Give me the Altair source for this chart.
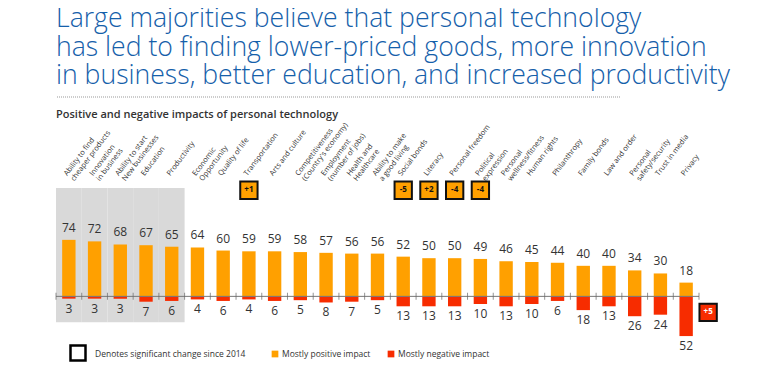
import altair as alt
import pandas as pd

categories = [
    "Ability to find\ncheaper products", "Innovation\nin business", "Ability to start\nNew businesses",
    "Education", "Productivity", "Economic\nOpportunity", "Quality of life", "Transportation",
    "Arts and culture", "Competitiveness\n(Country's economy)", "Employment\n(number of jobs)",
    "Health and\nHealthcare", "Ability to make\na good living", "Social bonds", "Literacy",
    "Personal freedom", "Political\nexpression", "Personal\nwellness/fitness", "Human rights",
    "Philanthropy", "Family bonds", "Law and order", "Personal\nsafety/security",
    "Trust in media", "Privacy",
]
positive = [74, 72, 68, 67, 65, 64, 60, 59, 59, 58, 57, 56, 56, 52, 50, 50, 49, 46, 45, 44, 40, 40, 34, 30, 18]
negative = [3, 3, 3, 7, 6, 4, 6, 4, 6, 5, 8, 7, 5, 13, 13, 13, 10, 13, 10, 6, 18, 13, 26, 24, 52]

# significant changes since 2014 (positive-impact share)
change_cats = ["Transportation", "Social bonds", "Literacy", "Personal freedom", "Political\nexpression"]
change_vals = ["+1", "-5", "+2", "-4", "-4"]
# significant change for the negative side
neg_change_cat = "Privacy"
neg_change_val = "+5"

highlight_cats = categories[:5]

title_lines = [
    "Large majorities believe that personal technology",
    "has led to finding lower-priced goods, more innovation",
    "in business, better education, and increased productivity",
]
subtitle = "Positive and negative impacts of personal technology"
legend_labels = ["Denotes significant change since 2014", "Mostly positive impact", "Mostly negative impact"]

ORANGE = "#FFA000"
RED = "#F72C00"
FONT = "Open Sans"

rows = []
for c, p, n in zip(categories, positive, negative):
    rows.append({"cat": c, "value": p, "kind": "Mostly positive impact", "label": str(p)})
    rows.append({"cat": c, "value": -n, "kind": "Mostly negative impact", "label": str(n)})
df = pd.DataFrame(rows)
pos_df = df[df["kind"] == "Mostly positive impact"]
neg_df = df[df["kind"] == "Mostly negative impact"]

badge_df = pd.DataFrame({"cat": change_cats, "txt": change_vals, "y": [139] * len(change_cats)})
neg_badge_df = pd.DataFrame({"cat": [neg_change_cat], "txt": [neg_change_val], "y": [-21]})
hl_df = pd.DataFrame({"cat": highlight_cats, "top": [142] * 5, "bot": [-34] * 5})
cat_df = pd.DataFrame({"cat": categories, "z": [0] * len(categories)})

xscale = alt.Scale(domain=categories, paddingInner=0, paddingOuter=0)
yscale = alt.Scale(domain=[-65, 155], nice=False, zero=False)

xenc = alt.X("cat:N", scale=xscale, sort=categories, title=None,
             axis=alt.Axis(orient="top", labelAngle=-53, labelAlign="left", labelBaseline="bottom",
                           labelExpr="split(datum.label, '\\n')", labelFont=FONT, labelFontSize=7.4,
                           labelColor="#333333", labelPadding=1, ticks=False, domain=False,
                           labelLimit=200, labelLineHeight=8.6, grid=False))
xplain = alt.X("cat:N", scale=xscale, sort=categories, title=None)

base_y = alt.Y("value:Q", scale=yscale, axis=None)

highlight = alt.Chart(hl_df).mark_bar(color="#D9D9D9", width=alt.RelativeBandSize(1)).encode(
    x=xenc, y=alt.Y("top:Q", scale=yscale, axis=None), y2="bot:Q")

bars = alt.Chart(df).mark_bar(width=alt.RelativeBandSize(0.52)).encode(
    x=xplain, y=base_y,
    color=alt.Color("kind:N", scale=alt.Scale(domain=["Mostly positive impact", "Mostly negative impact"],
                                               range=[ORANGE, RED]), legend=None))

zero = alt.Chart(pd.DataFrame({"z": [0]})).mark_rule(color="#777777", strokeWidth=1).encode(
    y=alt.Y("z:Q", scale=yscale, axis=None))

ticks = alt.Chart(cat_df).mark_tick(orient="vertical", size=7, thickness=1, color="#666666").encode(
    x=alt.X("cat:N", scale=xscale, sort=categories, title=None, bandPosition=0),
    y=alt.Y("z:Q", scale=yscale, axis=None))
end_tick = alt.Chart(cat_df.tail(1)).mark_tick(orient="vertical", size=7, thickness=1, color="#666666").encode(
    x=alt.X("cat:N", scale=xscale, sort=categories, title=None, bandPosition=1),
    y=alt.Y("z:Q", scale=yscale, axis=None))

pos_text = alt.Chart(pos_df).mark_text(baseline="bottom", dy=-5, font=FONT, fontSize=12, color="#333333").encode(
    x=xplain, y=base_y, text="label:N")
neg_text = alt.Chart(neg_df).mark_text(baseline="top", dy=5, font=FONT, fontSize=12, color="#333333").encode(
    x=xplain, y=base_y, text="label:N")

badges = alt.Chart(badge_df).mark_square(size=300, filled=True, color=ORANGE, stroke="#111111",
                                         strokeWidth=2, opacity=1).encode(
    x=xplain, y=alt.Y("y:Q", scale=yscale, axis=None))
badge_text = alt.Chart(badge_df).mark_text(font=FONT, fontSize=8, fontWeight="bold", color="#111111").encode(
    x=xplain, y=alt.Y("y:Q", scale=yscale, axis=None), text="txt:N")

neg_badge = alt.Chart(neg_badge_df).mark_square(size=300, filled=True, color=RED, stroke="#111111",
                                                strokeWidth=2, opacity=1, xOffset=22).encode(
    x=xplain, y=alt.Y("y:Q", scale=yscale, axis=None))
neg_badge_text = alt.Chart(neg_badge_df).mark_text(font=FONT, fontSize=8, fontWeight="bold", color="white",
                                                   xOffset=22).encode(
    x=xplain, y=alt.Y("y:Q", scale=yscale, axis=None), text="txt:N")

# Title, subtitle, separator and legend (decorations placed in the padding)
one = pd.DataFrame({"a": [0]})
deco = []
for i, line in enumerate(title_lines):
    deco.append(alt.Chart(one).mark_text(
        align="left", baseline="middle", font=FONT, fontSize=26.6, fontWeight=300, color="#1560AA", text=line
    ).encode(x=alt.value(0), y=alt.value(-159 + 28.5 * i)))

deco.append(alt.Chart(one).mark_text(
    align="left", baseline="middle", font=FONT, fontSize=11, fontWeight=600, color="#333333", text=subtitle
).encode(x=alt.value(0), y=alt.value(-63)))

deco.append(alt.Chart(one).mark_rule(color="#999999", strokeDash=[1, 1], strokeWidth=1).encode(
    x=alt.value(1), x2=alt.value(564), y=alt.value(-81)))

deco.append(alt.Chart(one).mark_square(size=225, filled=False, stroke="#000000", strokeWidth=2.5,
                                       opacity=1).encode(x=alt.value(22), y=alt.value(175)))
deco.append(alt.Chart(one).mark_square(size=45, color=ORANGE, opacity=1).encode(
    x=alt.value(219), y=alt.value(176)))
deco.append(alt.Chart(one).mark_square(size=45, color=RED, opacity=1).encode(
    x=alt.value(335), y=alt.value(176)))
for px, lab in zip([39, 226, 342], legend_labels):
    deco.append(alt.Chart(one).mark_text(
        align="left", baseline="middle", font=FONT, fontSize=8.5, color="#333333", text=lab
    ).encode(x=alt.value(px), y=alt.value(176)))

chart = alt.layer(
    highlight, bars, zero, ticks, end_tick, pos_text, neg_text, badges, badge_text, neg_badge, neg_badge_text,
    *deco
).properties(
    width=643, height=168,
    background="white",
    autosize=alt.AutoSizeParams(type="none"),
    padding={"left": 48, "top": 170, "right": 40, "bottom": 17},
).configure_view(stroke=None)

chart.save("out.html", embed_options={"renderer": "svg", "actions": False})
